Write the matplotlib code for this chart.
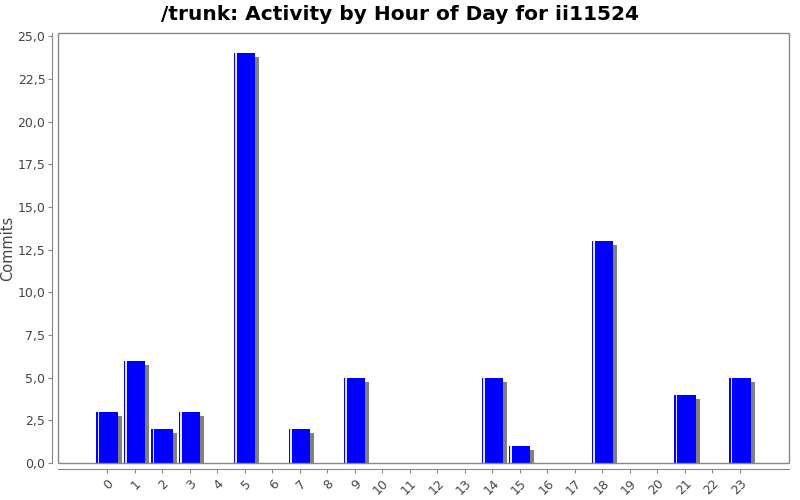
import matplotlib
matplotlib.use("Agg")
import matplotlib.pyplot as plt
from matplotlib.patches import Rectangle
from matplotlib.transforms import ScaledTranslation

hours = [str(h) for h in range(24)]
commits = [3, 6, 2, 3, 0, 24, 0, 2, 0, 5, 0, 0, 0, 0, 5, 1, 0, 0, 13, 0, 0, 4, 0, 5]
yticks = [0, 2.5, 5, 7.5, 10, 12.5, 15, 17.5, 20, 22.5, 25]
ytick_labels = ["0,0", "2,5", "5,0", "7,5", "10,0", "12,5", "15,0", "17,5", "20,0", "22,5", "25,0"]
title = "/trunk: Activity by Hour of Day for ii11524"

fig = plt.figure(figsize=(8, 5), dpi=100)
ax = fig.add_axes([58/800, 1-463/500, (789-58)/800, (463-33)/500])

x = list(range(len(hours)))
w = 0.77
shadow_tr = ax.transData + ScaledTranslation(4/100, -4/100, fig.dpi_scale_trans)
ax.bar(x, commits, width=w, color="#808080", transform=shadow_tr, zorder=1)
ax.bar(x, commits, width=w, color="#0000FF", zorder=2)
lefts = [xi - w/2 + 0.045 for xi in x]
ax.bar(lefts, commits, width=0.06, align="edge", color="#FFFFFF", alpha=0.9, zorder=3)

ax.set_xlim(-1.78, 23 + 1.78)
ax.set_ylim(0, 25.2)

grey = "#888888"
for s in ["top", "right"]:
    ax.spines[s].set_visible(False)
for s in ["left", "bottom"]:
    ax.spines[s].set_position(("outward", 4))
    ax.spines[s].set_color(grey)
ax.add_patch(Rectangle((0, 0), 1, 1, transform=ax.transAxes, fill=False,
                       edgecolor=grey, linewidth=1, clip_on=False, zorder=5))
ax.tick_params(axis="both", colors=grey, labelcolor="#444444", labelsize=9, length=3)
ax.tick_params(axis="x", pad=3)
ax.tick_params(axis="y", pad=2)

ax.set_xticks(x)
ax.set_xticklabels(hours)
ax.set_yticks(yticks)
ax.set_yticklabels(ytick_labels)
for lab in ax.get_xticklabels():
    lab.set_rotation(45)
    lab.set_ha("right")
    lab.set_va("top")
    lab.set_rotation_mode("anchor")

fig.text(8/800, 1-248/500, "Commits", rotation=90, ha="center", va="center",
         fontsize=10.5, color="#444444")
fig.text(400/800, 1-15/500, title, ha="center", va="center", fontsize=14.5,
         fontweight="bold", color="#000000")

fig.savefig("out.png", dpi=100)
